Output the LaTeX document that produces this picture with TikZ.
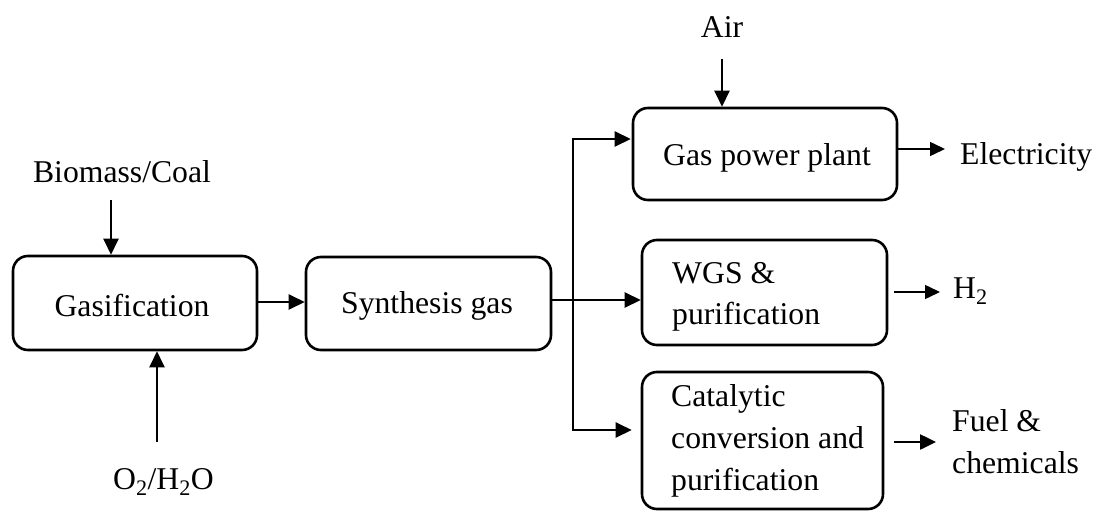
\documentclass[tikz,border=0pt]{standalone}
\usepackage{fontspec}
\setmainfont{Liberation Serif}
\usetikzlibrary{arrows.meta,calc}
\begin{document}
\begin{tikzpicture}[x=1pt,y=-1pt,
  every node/.style={font=\fontsize{31.7}{42}\selectfont},
  box/.style={draw, line width=2.6pt, rounded corners=15pt, inner sep=0pt, anchor=center},
  lbl/.style={inner sep=0pt, anchor=base},
  lblw/.style={inner sep=0pt, anchor=base west},
  arr/.style={line width=2.5pt, -{Triangle[length=16pt,width=15pt]}},
  tarr/.style={line width=1.5pt, -{Triangle[length=15pt,width=14pt]}}]
\fill[white] (0,0) rectangle (1103,511);
\useasboundingbox (0,0) rectangle (1103,511);

% boxes
\node[box, minimum width=244pt, minimum height=94pt] (gasif) at (135,303) {};
\node[box, minimum width=245pt, minimum height=93pt] (syn) at (428.5,303.5) {};
\node[box, minimum width=264pt, minimum height=92pt] (gpp) at (765,154) {};
\node[box, minimum width=245pt, minimum height=105pt] (wgs) at (764.5,292.5) {};
\node[box, minimum width=241pt, minimum height=137pt] (cat) at (762.5,440.5) {};

% texts inside boxes
\node[lbl] (tgasif) at (132,316) {Gasification};
\node[lbl] (tsyn) at (427,313) {Synthesis gas};
\node[lbl] (tgpp) at (767,165) {Gas power plant};
\node[lblw] (twgs1) at (672,283) {WGS \&};
\node[lblw] (twgs2) at (672,324) {purification};
\node[lblw] (tcat1) at (671,406) {Catalytic};
\node[lblw] (tcat2) at (671,448) {conversion and};
\node[lblw] (tcat3) at (671,490) {purification};

% outside labels
\node[lbl] (biomass) at (122,182) {Biomass/Coal};
\node[lbl] (o2) at (163.5,489) {O\textsubscript{2}/H\textsubscript{2}O};
\node[lbl] (air) at (722,38) {Air};
\node[lblw] (elec) at (960,164) {Electricity};
\node[lblw] (h2) at (953,298) {H\textsubscript{2}};
\node[lblw] (fuel1) at (952,431) {Fuel \&};
\node[lblw] (fuel2) at (952,473) {chemicals};

% coordinates
\coordinate (bmtop) at (111,200);
\coordinate (o2bot) at (157,442);
\coordinate (airtop) at (722,59);
\coordinate (j) at (573,300);
\coordinate (jt) at (573,139);
\coordinate (jb) at (573,430);
\coordinate (elend) at (945,149);
\coordinate (h2end) at (940,292);
\coordinate (fuelend) at (936,442);

% connectors
\draw[arr] (bmtop) -- (bmtop |- gasif.north);
\draw[arr] (o2bot) -- (o2bot |- gasif.south);
\draw[arr] (gasif.east |- 0,302) -- (syn.west |- 0,302);
\draw[arr] (syn.east |- j) -- (wgs.west |- j);
\draw[arr] (j) -- (jt) -- ($(gpp.west |- jt)+(-1,0)$);
\draw[arr] (j) -- (jb) -- ($(cat.west |- jb)+(-9,0)$);
\draw[arr] (airtop) -- (airtop |- gpp.north);
\draw[tarr] (gpp.east |- elend) -- (elend);
\draw[tarr] ($(wgs.east |- h2end)+(6,0)$) -- (h2end);
\draw[arr] ($(cat.east |- fuelend)+(10,0)$) -- (fuelend);
\end{tikzpicture}
\end{document}
